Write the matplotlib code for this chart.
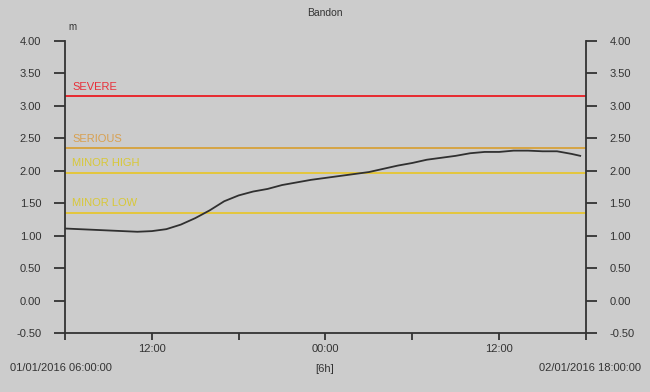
import pandas as pd
import matplotlib
matplotlib.use('Agg')
import matplotlib.pyplot as plt
import matplotlib.dates as mdates

plt.rcParams['font.family'] = ['Liberation Sans', 'DejaVu Sans']

# river level readings, hours after 01/01/2016 06:00
hours = [0, 1, 2, 3, 4, 5, 6, 7, 8, 9, 10, 11, 12, 13, 14, 15, 16, 17, 18,
         19, 20, 21, 22, 23, 24, 25, 26, 27, 28, 29, 30, 31, 32, 33, 34, 35, 35.6]
level = [1.11, 1.10, 1.09, 1.08, 1.07, 1.06, 1.07, 1.10, 1.17, 1.27, 1.39, 1.53,
         1.62, 1.68, 1.72, 1.78, 1.82, 1.86, 1.89, 1.92, 1.95, 1.98, 2.03, 2.08,
         2.12, 2.17, 2.20, 2.23, 2.27, 2.29, 2.29, 2.31, 2.31, 2.30, 2.30, 2.26, 2.23]

# warning thresholds
thr_names = ['SEVERE', 'SERIOUS', 'MINOR HIGH', 'MINOR LOW']
thr_values = [3.15, 2.35, 1.97, 1.35]
thr_colors = ['#e8282e', '#d6a444', '#e4c63c', '#e4c63c']
thr_text_colors = ['#e8303a', '#d8a050', '#d8c838', '#d8c838']

start = pd.Timestamp('2016-01-01 06:00')
end = pd.Timestamp('2016-01-02 18:00')
times = [start + pd.Timedelta(hours=h) for h in hours]

bg = '#cccccc'
txt = '#333333'
fig = plt.figure(figsize=(6.5, 3.92), dpi=100, facecolor=bg)
ax = fig.add_axes([0.1, 0.1505, 0.8015, 0.745])
ax.set_facecolor(bg)

for name, val, c, tc in zip(thr_names, thr_values, thr_colors, thr_text_colors):
    ax.axhline(val, color=c, lw=1.4)
    ax.text(start + pd.Timedelta(minutes=30), val + 0.07, name, color=tc,
            fontsize=8, va='bottom', ha='left')

ax.plot(times, level, color='#303030', lw=1.3)

ax.set_xlim(start, end)
ax.set_ylim(-0.5, 4.0)
ax.set_yticks([-0.5, 0, 0.5, 1, 1.5, 2, 2.5, 3, 3.5, 4])
ax.yaxis.set_major_formatter(matplotlib.ticker.FormatStrFormatter('%.2f'))
ax.xaxis.set_major_locator(mdates.HourLocator(byhour=[0, 12]))
ax.xaxis.set_minor_locator(mdates.HourLocator(byhour=[6, 18]))
ax.xaxis.set_major_formatter(mdates.DateFormatter('%H:%M'))

ax.spines['top'].set_visible(False)
for s in ['left', 'right', 'bottom']:
    ax.spines[s].set_color(txt)
    ax.spines[s].set_linewidth(1.3)

ax.tick_params(axis='y', which='both', left=True, right=True, labelleft=True,
               labelright=True, length=8, width=1.3, color=txt, labelsize=8,
               labelcolor=txt, pad=9)
ax.tick_params(axis='x', which='both', length=5, width=1.3, color=txt,
               labelsize=8, labelcolor=txt, pad=3)

fig.text(0.5, 0.967, 'Bandon', ha='center', va='center', fontsize=7.5, color=txt)
fig.text(0.105, 0.93, 'm', ha='left', va='center', fontsize=7, color=txt)
fig.text(0.015, 0.06, '01/01/2016 06:00:00', ha='left', va='center', fontsize=8, color=txt)
fig.text(0.5, 0.058, '[6h]', ha='center', va='center', fontsize=8, color=txt)
fig.text(0.986, 0.06, '02/01/2016 18:00:00', ha='right', va='center', fontsize=8, color=txt)

fig.savefig('out.png', dpi=100, facecolor=bg)
